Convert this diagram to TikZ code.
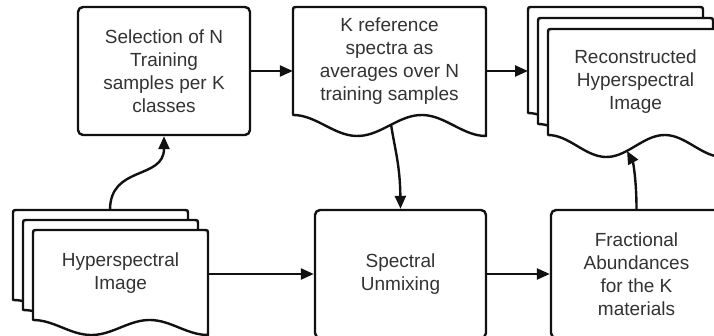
\documentclass[tikz,border=0pt]{standalone}
\usepackage{fontspec}
\setmainfont{Liberation Sans}
\usepackage{tikz}
\usetikzlibrary{arrows.meta}

\begin{document}
\begin{tikzpicture}[x=1pt,y=-1pt,line join=round,
	box/.style={draw=custcol_0_0_0, line width=2.4pt, rounded corners=5pt, fill=white, inner sep=0, align=center, text=custcol_33_33_33, font=\fontsize{19pt}{23pt}\selectfont},
	lbl/.style={inner sep=0, align=center, text=custcol_33_33_33, font=\fontsize{19pt}{23pt}\selectfont},
	doc/.style={draw=custcol_0_0_0, line width=2.4pt, fill=white},
	arr/.style={draw=custcol_0_0_0, line width=2.4pt, -{Triangle[length=13pt,width=11pt]}}]
					\definecolor{custcol_0_0_0}{RGB}{17, 17, 17}
					\definecolor{custcol_33_33_33}{RGB}{51, 51, 51}
					% document sheet: x, y, width, height of left side, depth of the wave
					\def\docsheet#1#2#3#4#5{\begin{scope}[shift={(#1,#2)}]
						\filldraw[doc] (0,#4) -- (0,5) .. controls (0,0) .. (5,0) -- (#3-5,0) .. controls (#3,0) .. (#3,5) -- (#3,#4+#5)
							-- plot[domain=1:0, samples=50] ({#3*\x},{#4+#5*(1-cos(540*\x))/2}) -- cycle;
					\end{scope}}
					\useasboundingbox (0,0) rectangle (714,336);
					\clip (0,0) rectangle (714,336);
					% top row
					\node[box, minimum width=172pt, minimum height=128pt] (sel) at (164,71) {Selection of N\\Training\\samples per K\\classes};
					\docsheet{293}{7}{193}{108}{21}
					\node[lbl, minimum width=193pt, minimum height=108pt] (kref) at (389.5,61) {K reference\\spectra as\\averages over N\\training samples};
					\docsheet{528}{7}{175}{106}{22}
					\docsheet{538}{18}{175}{106}{22}
					\docsheet{548}{29}{175}{106}{22}
					\node[lbl, minimum width=175pt, minimum height=106pt] (recon) at (635.5,82) {Reconstructed\\Hyperspectral\\Image};
					% bottom row
					\docsheet{13}{210}{175}{90}{15}
					\docsheet{23}{220}{175}{90}{15}
					\docsheet{33}{230}{175}{90}{15}
					\node[lbl, minimum width=175pt, minimum height=86pt] (hyper) at (120.5,273) {Hyperspectral\\Image};
					\node[box, minimum width=171pt, minimum height=128pt] (spec) at (400.5,274) {Spectral\\Unmixing};
					\node[box, minimum width=171pt, minimum height=128pt] (frac) at (636.5,274) {Fractional\\Abundances\\for the K\\materials};
					% connectors
					\coordinate (hyperout) at (110,210);
					\coordinate (reconin) at (528,71);
					\coordinate (krefout) at (391,124.3);
					\coordinate (reconout) at (627,151);
					\draw[arr] (hyperout) .. controls (110,165) and (164,180) .. (sel.south);
					\draw[arr] (sel.east) -- (kref.west |- sel.east);
					\draw[arr] (kref.east |- sel.east) -- (reconin);
					\draw[arr] (krefout) .. controls (395,150) and (400,165) .. (spec.north);
					\draw[arr] (hyper.east |- spec.west) -- (spec.west);
					\draw[arr] (spec.east) -- (frac.west);
					\draw[arr] (frac.north) .. controls (636.5,180) and (633,162) .. (reconout);
				\end{tikzpicture}
\end{document}
